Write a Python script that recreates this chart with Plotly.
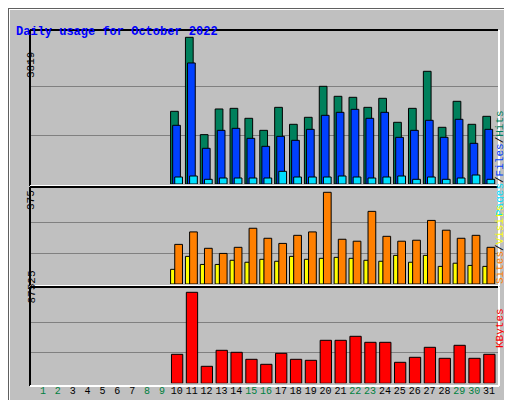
import plotly.graph_objects as go

days = list(range(1, 32))
active = list(range(10, 32))
hits = [1892, 3819, 1285, 1953, 1970, 1710, 1397, 1996, 1554, 1736, 2543,
        2283, 2257, 1996, 2231, 1606, 1970, 2934, 1476, 2153, 1554, 1762]
files = [1528, 3151, 929, 1397, 1449, 1189, 981, 1241, 1137, 1423, 1788,
         1866, 1944, 1710, 1866, 1215, 1397, 1658, 1215, 1684, 1059, 1423]
pages = [182, 208, 122, 156, 156, 156, 156, 330, 182, 182, 182,
         208, 182, 156, 182, 208, 122, 182, 122, 156, 234, 122]
visits = [162, 213, 146, 125, 150, 228, 187, 166, 199, 213, 375,
          183, 175, 297, 195, 175, 179, 260, 220, 187, 199, 150]
sites = [60, 113, 80, 80, 97, 89, 101, 93, 113, 101, 105,
         109, 105, 97, 93, 117, 89, 117, 72, 85, 76, 72]
kbytes = [27890, 87525, 16350, 31738, 29815, 23083, 18273, 28853, 23083, 22121, 41356,
          41356, 45203, 39432, 39432, 20197, 25006, 34624, 24044, 36547, 24044, 27890]
weekends = [1, 2, 8, 9, 15, 16, 22, 23, 29, 30]

W, H = 512, 400
def py(px):
    return 1 - px / H

MONO = "Liberation Mono, DejaVu Sans Mono, monospace"
BG = "#c0c0c0"
fig = go.Figure()

def bar(y, color, axis, offset, width):
    fig.add_trace(go.Bar(x=active, y=y, marker=dict(color=color, line=dict(color="black", width=1)),
                         offset=offset, width=width, xaxis="x", yaxis=axis, showlegend=False,
                         hoverinfo="y"))

bar(hits, "#00805c", "y", -0.42, 0.52)
bar(files, "#0040ff", "y", -0.28, 0.52)
bar(pages, "#00e0ff", "y", -0.14, 0.52)
bar(sites, "#ffff00", "y2", -0.42, 0.30)
bar(visits, "#ff8000", "y2", -0.14, 0.52)
bar(kbytes, "#ff0000", "y3", -0.36, 0.76)

xr = [0.126, 31.6]
def yax(bot, top, mtop, vmax):
    rmax = vmax * (bot - top) / (bot - mtop)
    return dict(domain=[py(bot), py(top)], range=[0, rmax], tickvals=[vmax / 3, 2 * vmax / 3],
                showticklabels=False, showgrid=True, gridcolor="#808080", gridwidth=1,
                zeroline=False, fixedrange=True, anchor="x", automargin=False)

ticktext = [f'<span style="color:{"#008040" if d in weekends else "black"}">{d}</span>' for d in days]

fig.update_layout(
    width=W, height=H, margin=dict(l=0, r=0, t=0, b=0, autoexpand=False),
    paper_bgcolor=BG, plot_bgcolor=BG, barmode="overlay",
    font=dict(family=MONO, size=11, color="black"),
    xaxis=dict(domain=[22 / W, 490 / W], range=xr, tickvals=days, ticktext=ticktext,
               showgrid=False, zeroline=False, ticks="", anchor="y3", fixedrange=True,
               tickangle=0, automargin=False, ticklabelstandoff=0,
               tickfont=dict(size=10)),
    yaxis=yax(176, 22, 29.3, 3819),
    yaxis2=yax(276, 180, 184.3, 375),
    yaxis3=yax(375.3, 280, 284.3, 87525),
)

# panel frames (dark top/left, light bottom/right)
shapes = []
for top, bot in [(22, 178), (179, 278), (279, 378)]:
    shapes.append(dict(type="line", xref="paper", yref="paper", x0=22 / W, x1=490 / W,
                       y0=py(top), y1=py(top), line=dict(color="black", width=2)))
    shapes.append(dict(type="line", xref="paper", yref="paper", x0=22 / W, x1=22 / W,
                       y0=py(top), y1=py(bot), line=dict(color="black", width=2)))
    shapes.append(dict(type="line", xref="paper", yref="paper", x0=22 / W, x1=491 / W,
                       y0=py(bot), y1=py(bot), line=dict(color="white", width=2)))
    shapes.append(dict(type="line", xref="paper", yref="paper", x0=491 / W, x1=491 / W,
                       y0=py(top), y1=py(bot), line=dict(color="white", width=2)))
# outer frame
shapes.append(dict(type="rect", xref="paper", yref="paper", x0=1 / W, x1=(W - 1) / W,
                   y0=py(H - 1), y1=py(1), line=dict(color="white", width=2)))
shapes.append(dict(type="rect", xref="paper", yref="paper", x0=0, x1=1, y0=0, y1=1,
                   line=dict(color="#606060", width=2)))
fig.update_layout(shapes=shapes)

ann = [
    dict(x=6 / W, y=py(15), text="<b>Daily usage for October 2022</b>", xanchor="left",
         font=dict(color="#0000ff", size=12)),
    dict(x=15 / W, y=py(42), text="3819", textangle=-90),
    dict(x=15 / W, y=py(192), text="375", textangle=-90),
    dict(x=15 / W, y=py(298), text="87525", textangle=-90),
    dict(x=500 / W, y=py(100),
         text='<span style="color:#00e0ff">Pages</span>/<span style="color:#0040ff">Files</span>/<span style="color:#00805c">Hits</span>',
         textangle=-90),
    dict(x=500 / W, y=py(237),
         text='<span style="color:#ff8000">Sites</span>/<span style="color:#ffff00">Visits</span>',
         textangle=-90),
    dict(x=500 / W, y=py(342), text='<span style="color:#ff0000">KBytes</span>', textangle=-90),
]
for a in ann:
    a.setdefault("font", dict(size=11))
    fig.add_annotation(xref="paper", yref="paper", showarrow=False, **a)

fig.write_html("out.html")
